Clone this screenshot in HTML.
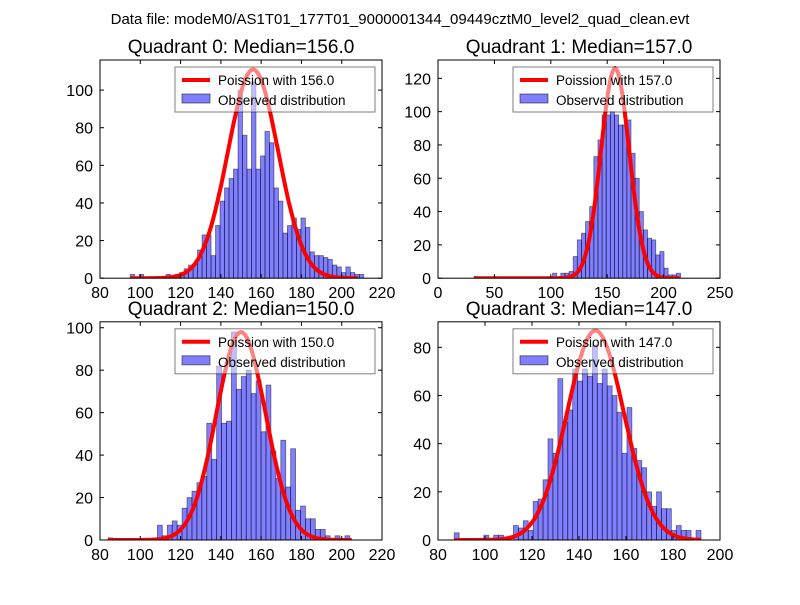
<!DOCTYPE html>
<html><head><meta charset="utf-8"><style>
body{margin:0;background:#fff}
svg text{font-family:"Liberation Sans","DejaVu Sans",sans-serif}
</style></head><body>
<svg id="fig" width="800" height="600" xmlns="http://www.w3.org/2000/svg">
<rect width="800" height="600" fill="#fff"/>
<text x="400" y="24" text-anchor="middle" font-size="15">Data file: modeM0/AS1T01_177T01_9000001344_09449cztM0_level2_quad_clean.evt</text>
</svg>
<script>
const medians=[156.0,157.0,150.0,147.0];
const peaks=[111,126,98,87];
const binStarts=[95,32,84,86.9];
const binWidths=[2.23,3.66,2.45,2.1];
const q0Counts=[2,0,2,0,0,0,0,1,2,1,2,3,5,7,8,15,23,23,12,28,41,48,53,58,100,76,58,104,58,65,78,72,48,41,24,28,32,26,32,27,14,12,12,11,10,7,6,3,6,3,2,2];
const q1Counts=[1,0,0,0,0,0,0,0,0,0,0,0,0,0,0,0,0,0,0,3,0,3,3,4,13,23,27,34,43,73,83,98,98,100,98,92,92,95,75,60,40,29,24,23,14,16,6,2,2,3];
const q2Counts=[1,0,0,0,0,0,0,0,0,1,7,2,7,9,7,15,20,23,27,30,55,38,82,55,56,98,71,77,80,69,75,51,73,42,29,47,25,43,14,16,10,10,5,5,2,0,2,0,2,0];
const q3Counts=[3,0,0,0,0,0,2,0,2,2,0,0,6,5,8,4,16,17,25,42,36,67,49,54,71,66,71,68,81,65,71,64,60,53,36,55,38,33,30,20,14,20,13,13,4,6,4,4,0,4];
const counts=[q0Counts,q1Counts,q2Counts,q3Counts];
const xMins=[80,0,80,80], xMaxs=[220,250,220,200];
const yMaxs=[116,131,102.8,90.6];
const xTicks=[[80,100,120,140,160,180,200,220],[0,50,100,150,200,250],[80,100,120,140,160,180,200,220],[80,100,120,140,160,180,200]];
const yTicks=[[0,20,40,60,80,100],[0,20,40,60,80,100,120],[0,20,40,60,80,100],[0,20,40,60,80]];
const curveRanges=[[95,208],[32,215],[84,205],[87,192]];

const NS="http://www.w3.org/2000/svg";
const svg=document.getElementById('fig');
function mk(tag,attrs,parent){const e=document.createElementNS(NS,tag);for(const k in attrs)e.setAttribute(k,attrs[k]);(parent||svg).appendChild(e);return e;}
const boxes=[[100,60],[438,60],[100,321.8],[438,321.8]];
const W=282,H=218.2;
for(let q=0;q<4;q++){
  const [L,T]=boxes[q];
  const g=mk('g',{});
  
  
  const sx=v=>L+(v-xMins[q])/(xMaxs[q]-xMins[q])*W;
  const sy=v=>T+H-v/yMaxs[q]*H;
  const defs=mk('clipPath',{id:'c'+q},g);mk('rect',{x:L,y:T,width:W,height:H},defs);
  const bars=mk('g',{'clip-path':'url(#c'+q+')'},g);
  counts[q].forEach((c,i)=>{
    if(c<=0)return;
    const x0=sx(binStarts[q]+i*binWidths[q]),x1=sx(binStarts[q]+(i+1)*binWidths[q]);
    const r=mk('rect',{x:x0,y:sy(c),width:x1-x0,height:sy(0)-sy(c),fill:'rgba(0,0,255,0.5)',stroke:'rgba(0,0,0,0.5)','stroke-width':0.8},bars);
    
    
  });
  let d='';const m=medians[q];
  for(let v=curveRanges[q][0];v<=curveRanges[q][1];v+=1){
    const y=peaks[q]*Math.exp(-(v-m)*(v-m)/(2*m));
    d+=(d?'L':'M')+sx(v).toFixed(1)+','+sy(y).toFixed(1);
  }
  const p=mk('path',{d:d,fill:'none',stroke:'#f00','stroke-width':4,'clip-path':'url(#c'+q+')'},g);
  
  
  mk('rect',{x:L,y:T,width:W,height:H,fill:'none',stroke:'#000','stroke-width':1},g);
  xTicks[q].forEach(t=>{
    const x=sx(t);
    mk('line',{x1:x,x2:x,y1:T+H,y2:T+H-4,stroke:'#000'},g);
    mk('line',{x1:x,x2:x,y1:T,y2:T+4,stroke:'#000'},g);
    const tx=mk('text',{x:x,y:T+H+20,'text-anchor':'middle','font-size':16},g);tx.textContent=t;
    
    
  });
  yTicks[q].forEach(t=>{
    const y=sy(t);
    mk('line',{x1:L,x2:L+4,y1:y,y2:y,stroke:'#000'},g);
    mk('line',{x1:L+W,x2:L+W-4,y1:y,y2:y,stroke:'#000'},g);
    const tx=mk('text',{x:L-7,y:y+6,'text-anchor':'end','font-size':16},g);tx.textContent=t;
    
    
  });
  const ti=mk('text',{x:L+W/2,y:T-7,'text-anchor':'middle','font-size':19},g);
  ti.textContent='Quadrant '+q+': Median='+medians[q].toFixed(1);
  
  
  const lg=mk('g',{},g);
  
  
  const lx=L+75,ly=T+7;
  mk('rect',{x:lx,y:ly,width:200,height:45,fill:'rgba(255,255,255,0.5)',stroke:'rgba(0,0,0,0.5)'},lg);
  mk('line',{x1:lx+7,x2:lx+35,y1:ly+13,y2:ly+13,stroke:'#f00','stroke-width':4},lg);
  mk('rect',{x:lx+7,y:ly+27,width:28,height:9,fill:'rgba(0,0,255,0.5)',stroke:'rgba(0,0,0,0.5)'},lg);
  const t1=mk('text',{x:lx+43,y:ly+18,'font-size':13.5},lg);t1.textContent='Poission with '+medians[q].toFixed(1);
  const t2=mk('text',{x:lx+43,y:ly+38,'font-size':13.5},lg);t2.textContent='Observed distribution';
}
</script>
</body></html>
